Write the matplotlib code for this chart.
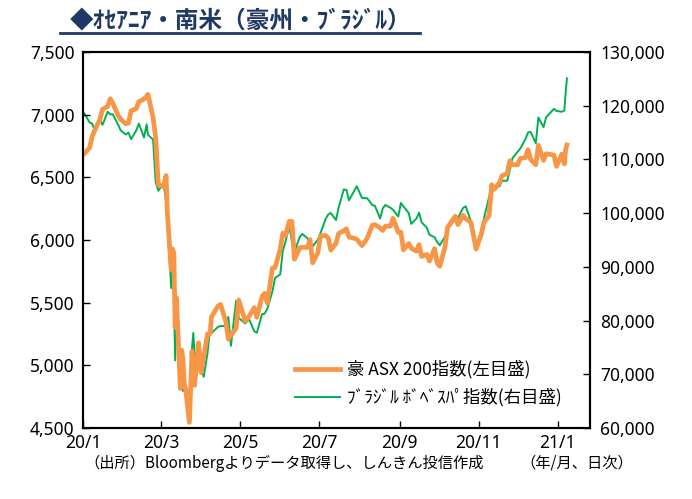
import matplotlib
matplotlib.use("Agg")
import matplotlib.pyplot as plt
from matplotlib.lines import Line2D
from matplotlib.ticker import FuncFormatter, MultipleLocator
import pandas as pd

plt.rcParams['font.family'] = ['Noto Sans CJK JP', 'DejaVu Sans']

# data (approximate daily closes)
dates = [
    "2020-01-02", "2020-01-06", "2020-01-08", "2020-01-10", "2020-01-14", "2020-01-16",
    "2020-01-20", "2020-01-22", "2020-01-24", "2020-01-28", "2020-01-30", "2020-02-03",
    "2020-02-05", "2020-02-07", "2020-02-11", "2020-02-13", "2020-02-17", "2020-02-19",
    "2020-02-20", "2020-02-24", "2020-02-26", "2020-02-28", "2020-03-03", "2020-03-05",
    "2020-03-06", "2020-03-09", "2020-03-10", "2020-03-11", "2020-03-12", "2020-03-13",
    "2020-03-16", "2020-03-17", "2020-03-18", "2020-03-19", "2020-03-20", "2020-03-23",
    "2020-03-24", "2020-03-25", "2020-03-26", "2020-03-27", "2020-03-30", "2020-03-31",
    "2020-04-01", "2020-04-03", "2020-04-06", "2020-04-08", "2020-04-09", "2020-04-14",
    "2020-04-16", "2020-04-20", "2020-04-22", "2020-04-24", "2020-04-28", "2020-04-30",
    "2020-05-05", "2020-05-08", "2020-05-12", "2020-05-14", "2020-05-18", "2020-05-20",
    "2020-05-22", "2020-05-26", "2020-05-28", "2020-06-01", "2020-06-03", "2020-06-05",
    "2020-06-08", "2020-06-10", "2020-06-12", "2020-06-16", "2020-06-18", "2020-06-22",
    "2020-06-24", "2020-06-26", "2020-06-30", "2020-07-02", "2020-07-06", "2020-07-08",
    "2020-07-10", "2020-07-14", "2020-07-16", "2020-07-20", "2020-07-22", "2020-07-24",
    "2020-07-28", "2020-07-30", "2020-08-03", "2020-08-05", "2020-08-07", "2020-08-11",
    "2020-08-13", "2020-08-17", "2020-08-19", "2020-08-21", "2020-08-25", "2020-08-27",
    "2020-08-31", "2020-09-02", "2020-09-04", "2020-09-08", "2020-09-10", "2020-09-14",
    "2020-09-16", "2020-09-18", "2020-09-22", "2020-09-24", "2020-09-28", "2020-09-30",
    "2020-10-02", "2020-10-06", "2020-10-08", "2020-10-12", "2020-10-14", "2020-10-16",
    "2020-10-20", "2020-10-22", "2020-10-26", "2020-10-28", "2020-10-30", "2020-11-03",
    "2020-11-05", "2020-11-09", "2020-11-11", "2020-11-13", "2020-11-17", "2020-11-19",
    "2020-11-23", "2020-11-25", "2020-11-27", "2020-12-01", "2020-12-03", "2020-12-07",
    "2020-12-09", "2020-12-11", "2020-12-15", "2020-12-17", "2020-12-21", "2020-12-23",
    "2020-12-29", "2020-12-31", "2021-01-04", "2021-01-06", "2021-01-07", "2021-01-08",
]
asx200 = [
    6690, 6734, 6826, 6874, 6962, 7042, 7065, 7127, 7090, 6994, 6962, 6926,
    6932, 7030, 7048, 7102, 7125, 7144, 7162, 6978, 6812, 6441, 6426, 6514,
    6217, 5760, 5929, 5893, 5304, 5539, 4816, 5122, 5050, 4855, 4817, 4546,
    4842, 5114, 4870, 4842, 5180, 5076, 4942, 5067, 5252, 5253, 5387, 5473,
    5487, 5353, 5209, 5242, 5297, 5522, 5353, 5391, 5461, 5384, 5550, 5575,
    5497, 5776, 5780, 5926, 6055, 6036, 6149, 6148, 5847, 5939, 5942, 5941,
    6003, 5818, 5897, 6032, 6036, 6016, 5920, 5974, 6052, 6074, 6090, 6024,
    6014, 6006, 5955, 5982, 6014, 6118, 6123, 6096, 6076, 6110, 6111, 6173,
    6061, 6063, 5921, 5972, 5934, 5911, 5963, 5869, 5885, 5832, 5932, 5816,
    5791, 5945, 6101, 6162, 6190, 6123, 6197, 6170, 6141, 6035, 5928, 6047,
    6141, 6195, 6441, 6405, 6458, 6513, 6530, 6632, 6601, 6600, 6650, 6658,
    6720, 6642, 6600, 6755, 6635, 6688, 6677, 6587, 6684, 6607, 6719, 6757,
]
bovespa = [
    118573, 116878, 116662, 115503, 117325, 116414, 118862, 118391, 118376, 116479, 115385, 114629,
    115007, 113770, 115371, 116674, 114069, 116518, 114586, 113681, 105718, 104172, 105537, 102233,
    97997, 86067, 92214, 85171, 72583, 82678, 71168, 74617, 66895, 68332, 67069, 63570,
    69729, 74955, 77710, 73429, 74640, 73020, 70967, 69538, 74073, 78625, 77682, 78831,
    78990, 79000, 80687, 75330, 83681, 80506, 79471, 80263, 78000, 77772, 81195, 81319,
    82173, 85469, 87946, 88620, 93002, 94637, 97645, 94685, 92795, 95547, 96125, 95336,
    94377, 93834, 95056, 96235, 98937, 99770, 100032, 98697, 101000, 104426, 104310, 102382,
    104109, 105009, 102830, 102802, 102775, 101500, 101353, 99000, 100868, 101521, 101000, 100627,
    99369, 101911, 101242, 100050, 98000, 99000, 100097, 98290, 97301, 96000, 95500, 94603,
    94016, 95615, 97000, 98309, 98700, 99055, 101000, 101259, 98500, 95368, 93952, 95979,
    99000, 103000, 104723, 104723, 105000, 106000, 106042, 108000, 110227, 111400, 112000, 113750,
    115000, 115128, 113000, 117800, 116000, 117857, 119400, 119017, 118855, 119100, 122386, 125077,
]
x_ticks = ["2020-01-01", "2020-03-01", "2020-05-01", "2020-07-01",
           "2020-09-01", "2020-11-01", "2021-01-01"]
x_labels = ["20/1", "20/3", "20/5", "20/7", "20/9", "20/11", "21/1"]

dt = pd.to_datetime(dates)

fig = plt.figure(figsize=(6.92, 4.99), dpi=100)
ax = fig.add_axes([0.120, 0.142, 0.733, 0.754])
ax2 = ax.twinx()

l1, = ax.plot(dt, asx200, color="#F79646", lw=3.4, zorder=2)
l2, = ax2.plot(dt, bovespa, color="#00B050", lw=1.4, zorder=3)

ax.set_ylim(4500, 7500)
ax.yaxis.set_major_locator(MultipleLocator(500))
ax2.set_ylim(60000, 130000)
ax2.yaxis.set_major_locator(MultipleLocator(10000))
fmt = FuncFormatter(lambda v, p: f"{int(v):,}")
ax.yaxis.set_major_formatter(fmt)
ax2.yaxis.set_major_formatter(fmt)

ax.set_xlim(pd.Timestamp("2020-01-01"), pd.Timestamp("2021-01-26"))
ax.set_xticks(pd.to_datetime(x_ticks))
ax.set_xticklabels(x_labels)

for a in (ax, ax2):
    a.tick_params(direction="in", length=5, width=1, labelsize=12.5, colors="black")
    for s in a.spines.values():
        s.set_linewidth(1.5)
        s.set_color("black")
    for lab in a.get_xticklabels() + a.get_yticklabels():
        lab.set_family("Noto Sans")
ax.tick_params(axis="x", pad=4)
ax.tick_params(axis="y", pad=6)
ax2.tick_params(axis="y", pad=7)

ax.set_zorder(ax2.get_zorder() + 1)
ax.patch.set_visible(False)

ax.legend([l1, l2], ["豪 ASX 200指数(左目盛)", "ﾌﾞﾗｼﾞﾙ ﾎﾞﾍﾞｽﾊﾟ指数(右目盛)"],
          loc="lower right", bbox_to_anchor=(0.975, 0.015), frameon=False,
          fontsize=12.5, handlelength=2.6, handletextpad=0.4, labelspacing=0.55)

fig.text(0.101, 0.958, "◆ｵｾｱﾆｱ・南米（豪州・ﾌﾞﾗｼﾞﾙ）", color="#1F3864",
         fontsize=17, fontweight="bold", va="center", ha="left")
fig.add_artist(Line2D([0.087, 0.607], [0.934, 0.934], transform=fig.transFigure,
                      color="#1F3864", lw=2))

fig.text(0.122, 0.072, "（出所）Bloombergよりデータ取得し、しんきん投信作成", fontsize=11,
         va="center", ha="left")
fig.text(0.752, 0.072, "（年/月、日次）", fontsize=11, va="center", ha="left")

fig.savefig("out.png", dpi=100)
